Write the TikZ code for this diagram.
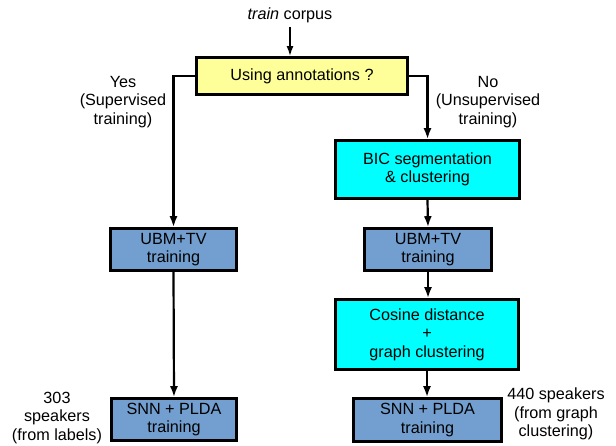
\documentclass[tikz,border=0pt]{standalone}
\usepackage{fontspec}
\setmainfont{Liberation Sans}
\usetikzlibrary{arrows.meta}
\definecolor{qyellow}{HTML}{FFFF99}
\definecolor{qcyan}{HTML}{00FFFF}
\definecolor{qblue}{HTML}{729FCF}
\begin{document}
\begin{tikzpicture}[x=1pt,y=-1pt,
  every node/.style={font=\fontsize{16.2}{18.5}\selectfont, align=center},
  boxnode/.style={draw=black, line width=2.6pt, inner sep=0pt},
  lbl/.style={inner sep=0pt},
  conn/.style={line width=2.2pt, -{Latex[length=11pt,width=8pt]}},
  thinconn/.style={line width=1.4pt, -{Latex[length=10pt,width=7pt]}}
]
\useasboundingbox (0,0) rectangle (616,445);

\node[lbl] (corpus) at (290,15) {\textit{train} corpus};
\node[boxnode, fill=qyellow, minimum width=211pt, minimum height=37pt] (q) at (302,76) {Using annotations ?};

\node[boxnode, fill=qcyan, minimum width=184pt, minimum height=58pt] (bic) at (427.5,169.5) {BIC segmentation\\\& clustering};
\node[boxnode, fill=qblue, minimum width=127pt, minimum height=42pt] (ubmR) at (428,249.5) {UBM+TV\\training};
\node[boxnode, fill=qcyan, minimum width=183pt, minimum height=70pt] (cos) at (427,334.5) {Cosine distance\\+\\graph clustering};
\node[boxnode, fill=qblue, minimum width=148pt, minimum height=43pt] (snnR) at (427.5,420) {SNN + PLDA\\training};

\node[boxnode, fill=qblue, minimum width=126pt, minimum height=42pt] (ubmL) at (173.5,249.5) {UBM+TV\\training};
\node[boxnode, fill=qblue, minimum width=125pt, minimum height=42pt] (snnL) at (174,419.5) {SNN + PLDA\\training};

\node[lbl] (yes) at (123,102) {Yes\\(Supervised\\training)};
\node[lbl] (no) at (488,102) {No\\(Unsupervised\\training)};
\node[lbl] (n303) at (57,418) {303\\speakers\\(from labels)};
\node[lbl] (n440) at (556,414) {440 speakers\\(from graph\\clustering)};

\coordinate (qin) at (290,56);
\draw[thinconn] (corpus.south) ++(0,4) -- (qin);
\draw[conn] (q.west) -| (ubmL.north);
\draw[conn] (ubmL.south) -- (snnL.north);
\draw[conn] (q.east) -| (bic.north);
\draw[conn] (bic.south) -- (ubmR.north);
\draw[conn] (ubmR.south) -- (ubmR.south |- cos.north);
\draw[conn] (cos.south) -- (cos.south |- snnR.north);
\end{tikzpicture}
\end{document}
